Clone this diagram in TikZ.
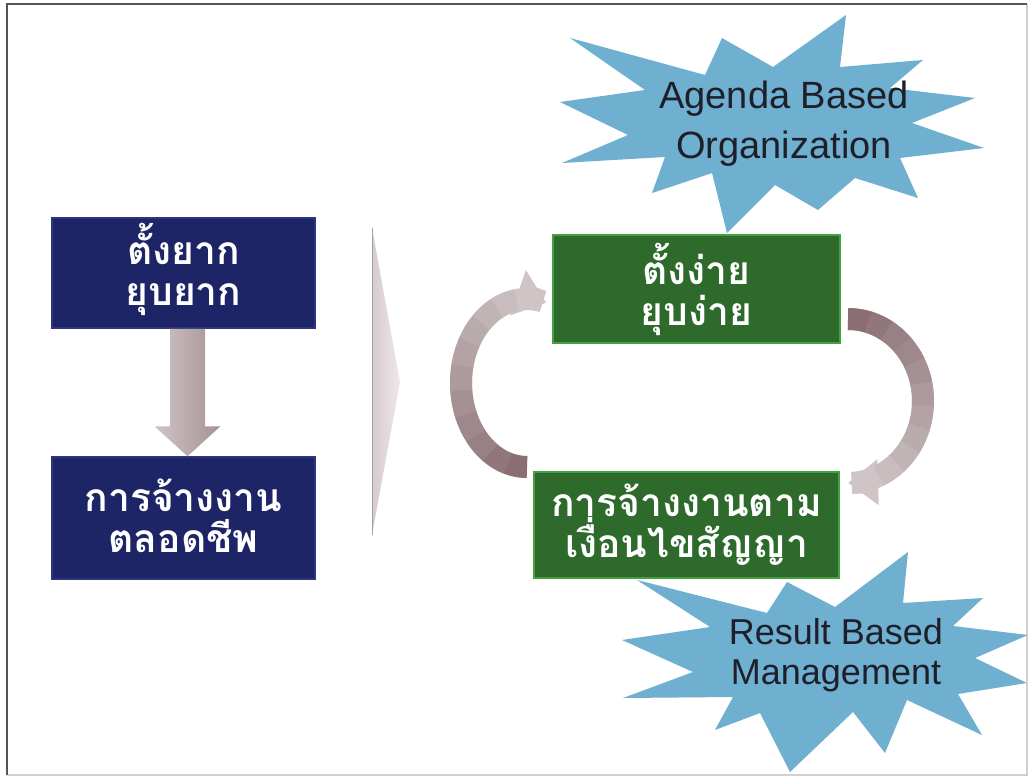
\documentclass[tikz,border=0pt]{standalone}
\usepackage{fontspec}
\setmainfont{Liberation Sans}
\newfontfamily\thaifont[Script=Thai]{Loma}
\usetikzlibrary{arrows.meta,calc}
\definecolor{navyfill}{HTML}{1E2567}
\definecolor{navyedge}{HTML}{2C3680}
\definecolor{greenfill}{HTML}{2D6A2B}
\definecolor{greenedge}{HTML}{45A03F}
\definecolor{starfill}{HTML}{6FB0D0}
\definecolor{startext}{HTML}{1F1F2A}
\definecolor{mauvedark}{HTML}{8A6E73}
\definecolor{mauvelight}{HTML}{CFC5C6}
\definecolor{framecol}{HTML}{555555}
\definecolor{framelight}{HTML}{D0D0D0}
\definecolor{chevfill}{HTML}{E4D8D9}
\definecolor{chevedge}{HTML}{A0A0AA}
\begin{document}
\begin{tikzpicture}[x=1pt,y=-1pt,
  bluebox/.style={rectangle, fill=navyfill, draw=navyedge, line width=1.5pt, inner sep=0pt},
  greenbox/.style={rectangle, fill=greenfill, draw=greenedge, line width=1.5pt, inner sep=0pt},
  thaitxt/.style={text=white, align=center, inner sep=0pt,
    font=\thaifont\bfseries\fontsize{39pt}{41pt}\selectfont},
  startxt/.style={text=startext, align=center, inner sep=0pt},
  starshape/.style={fill=starfill},
]
\useasboundingbox (0,0) rectangle (1030,778);
\fill[white] (0,0) rectangle (1030,778);
\draw[framelight, line width=1.2pt] (1027,4) -- (1027,775) -- (7,775);
\draw[framecol, line width=1.8pt] (7,775) -- (7,4) -- (1027,4);

% stars (behind boxes)
\fill[starshape] (570,38) -- (705,75) -- (722,38) -- (773,67) -- (846,15) -- (840,67)
  -- (923,60) -- (890,88) -- (975,98) -- (912,123) -- (984,148) -- (900,158)
  -- (918,198) -- (855,178) -- (818,210) -- (775,185) -- (727,233) -- (712,173)
  -- (652,193) -- (665,157) -- (562,163) -- (628,135) -- (560,102) -- (645,90) -- cycle;
\fill[starshape] (637,580) -- (767,613) -- (787,582) -- (835,607) -- (908,552) -- (903,603)
  -- (983,598) -- (953,626) -- (1028,635) -- (975,658) -- (1027,683) -- (958,694)
  -- (982,735) -- (907,700) -- (885,753) -- (853,712) -- (790,772) -- (760,713)
  -- (715,730) -- (733,697) -- (623,698) -- (693,672) -- (622,640) -- (710,627) -- cycle;

\node[startxt, font=\fontsize{38pt}{50pt}\selectfont] (s1) at (784,124) {Agenda Based\\Organization};
\node[startxt, font=\fontsize{36pt}{40pt}\selectfont] (s2) at (836,655) {Result Based\\Management};

% boxes
\node[bluebox, minimum width=263pt, minimum height=110pt] (b1) at (183.5,273) {};
\node[thaitxt] (b1t) at ($(b1)+(0,-4)$) {ตั้งยาก\\ยุบยาก};
\node[bluebox, minimum width=263pt, minimum height=122pt] (b2) at (183.5,518) {};
\node[thaitxt] (b2t) at ($(b2)+(0,-2)$) {การจ้างงาน\\ตลอดชีพ};
\node[greenbox, minimum width=287pt, minimum height=108pt] (g1) at (696.5,289) {};
\node[thaitxt] (g1t) at (g1) {ตั้งง่าย\\ยุบง่าย};
\node[greenbox, minimum width=305pt, minimum height=106pt] (g2) at (686.5,525) {};
\node[thaitxt] (g2t) at (g2) {การจ้างงานตาม\\เงื่อนไขสัญญา};

% down arrow between the blue boxes
\coordinate (da1) at ($(b1.south)+(4,0)$);
\coordinate (da2) at ($(b2.north)+(4,0)$);
\shade[left color=mauvelight, middle color=white!90!mauvelight, right color=mauvedark!60!mauvelight]
  ($(da1)+(-17.5,0)$) -- ($(da2)+(-17.5,-30)$) -- ($(da2)+(-33,-30)$) -- (da2)
  -- ($(da2)+(33,-30)$) -- ($(da2)+(17.5,-30)$) -- ($(da1)+(17.5,0)$) -- cycle;

% chevron
\shade[left color=chevfill!85!gray, right color=chevfill!60!white] (372,228) -- (400,382) -- (372,535) -- cycle;
\draw[chevedge, line width=1pt] (372,228) -- (372,535);

% curved arrows
\draw[mauvelight, line width=22pt, -{Triangle[length=30pt,width=46pt]}]
  plot[domain=90:287, samples=60] ({527+66*cos(\x)}, {383+84*sin(\x)});
\foreach \i in {0,...,9}{
  \pgfmathsetmacro{\aa}{90+17*\i}
  \pgfmathsetmacro{\bb}{90+17*\i+17.8}
  \pgfmathsetmacro{\pp}{100-10*\i}
  \draw[mauvedark!\pp!mauvelight, line width=22pt]
    plot[domain=\aa:\bb, samples=8] ({527+66*cos(\x)}, {383+84*sin(\x)});
}
\draw[mauvelight, line width=22pt, -{Triangle[length=30pt,width=44pt]}]
  plot[domain=270:450, samples=60] ({848+75*cos(\x)}, {401+82*sin(\x)});
\foreach \i in {0,...,9}{
  \pgfmathsetmacro{\aa}{270+15.5*\i}
  \pgfmathsetmacro{\bb}{270+15.5*\i+16.2}
  \pgfmathsetmacro{\pp}{100-10*\i}
  \draw[mauvedark!\pp!mauvelight, line width=22pt]
    plot[domain=\aa:\bb, samples=8] ({848+75*cos(\x)}, {401+82*sin(\x)});
}
\end{tikzpicture}
\end{document}
